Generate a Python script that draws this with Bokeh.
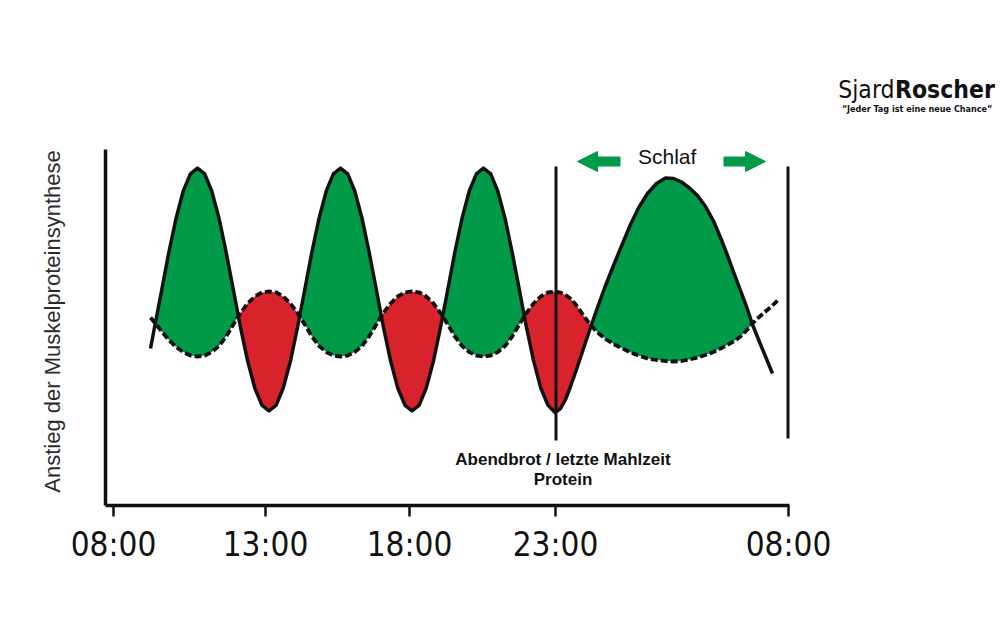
import numpy as np
from bokeh.plotting import figure
from bokeh.models import Range1d, FixedTicker, Label, Arrow, NormalHead
from bokeh.embed import file_html
from bokeh.resources import INLINE

# ---------------- data ----------------
tick_positions = [8, 160, 304, 450, 683]
tick_labels = ["08:00", "13:00", "18:00", "23:00", "08:00"]

position = [45, 49.1, 56.3, 63.4, 70.6, 77.7, 84.9, 92,
            99.2, 106.3, 113.5, 120.6, 127.8, 134.9, 142.1, 149.2, 156.4, 163.5,
            170.7, 177.8, 185, 192.1, 199.3, 206.4, 213.6, 220.7, 227.9, 235,
            242.2, 249.3, 256.5, 263.6, 270.8, 277.9, 285.1, 292.2, 299.4, 306.5,
            313.7, 320.8, 328, 335.1, 342.3, 349.4, 356.6, 363.7, 370.9, 378,
            385.2, 392.3, 399.5, 406.6, 413.8, 420.9, 428.1, 435.2, 442.4, 449.5,
            455, 460, 465, 471, 478, 485, 492, 500, 508, 516, 525, 533, 542, 551,
            560, 568, 576, 584, 592, 600, 608, 615, 622, 629, 635, 641, 647, 653,
            660, 667, 673]

# solid curve: muscle protein synthesis with protein meals
synthesis_level = [157, 178.5, 216, 253.5, 287.4, 314.3, 331.6, 337.5,
                   331.6, 314.3, 287.4, 253.5, 216, 178.5, 144.6, 117.7, 100.4, 94.5,
                   100.4, 117.7, 144.6, 178.5, 216, 253.5, 287.4, 314.3, 331.6, 337.5,
                   331.6, 314.3, 287.4, 253.5, 216, 178.5, 144.6, 117.7, 100.4, 94.5,
                   100.4, 117.7, 144.6, 178.5, 216, 253.5, 287.4, 314.3, 331.6, 337.5,
                   331.6, 314.3, 287.4, 253.5, 216, 178.5, 144.6, 117.7, 100.4, 93,
                   97, 106, 119, 136, 157, 178, 198, 220, 240, 259.5, 281, 297.5, 312, 322,
                   327.5, 327, 323.5, 317.5, 310, 299, 284.5, 268, 250, 231, 215, 199, 181, 166,
                   149, 132, np.nan]

# dashed curve: reference / baseline level
baseline_level = [188, 183, 174, 165.5, 158.5, 153.5, 150, 149,
                  150, 153.5, 159.5, 169, 181, 192.5, 202, 209, 213, 214,
                  213, 209, 202, 192.5, 181, 169, 159.5, 153.5, 150, 149,
                  150, 153.5, 159.5, 169, 181, 192.5, 202, 209, 213, 214,
                  213, 209, 202, 192.5, 181, 169, 159.5, 153.5, 150, 149,
                  150, 153.5, 159.5, 169, 181, 192.5, 202, 209, 213, 214,
                  213, 210.5, 207, 200, 190, 180.5, 173, 166.5, 161.5, 157.5, 153, 150, 147, 145.5,
                  144.5, 144, 144.5, 146, 148, 150.5, 153.5, 157, 160.5, 164.5, 169, 175, 182, 188,
                  194, 200, 206]

axis_x_extent = (0, 684)
axis_y_extent = (0, 356)

marker_x = [450.5, 682.5]
marker_bottom = [65, 67]
marker_top = [339, 339]

sleep_arrow_start = [515, 618]
sleep_arrow_end = [472, 660]
sleep_arrow_level = 344

GREEN = "#019a48"
RED = "#d9232c"
INK = "#111111"
NARROW = "DejaVu Sans Condensed"
SANS = "Liberation Sans"

# ---------------- figure ----------------
p = figure(width=1000, height=618, x_range=Range1d(-105, 895), y_range=Range1d(-113, 505),
           output_backend="svg", toolbar_location=None, min_border=0)
p.xgrid.visible = False
p.ygrid.visible = False
p.outline_line_color = None
p.background_fill_color = "white"
p.border_fill_color = "white"

# x axis (placed inside the frame at level 0)
p.xaxis.fixed_location = 0
p.xaxis.bounds = axis_x_extent
p.xaxis.ticker = FixedTicker(ticks=tick_positions)
p.xaxis.major_label_overrides = {t: l for t, l in zip(tick_positions, tick_labels)}
p.xaxis.axis_line_width = 3.5
p.xaxis.axis_line_color = INK
p.xaxis.major_tick_out = 11
p.xaxis.major_tick_in = 0
p.xaxis.major_tick_line_width = 2.5
p.xaxis.major_tick_line_color = INK
p.xaxis.minor_tick_line_color = None
p.xaxis.major_label_text_font = NARROW
p.xaxis.major_label_text_font_size = "33px"
p.xaxis.major_label_text_color = INK
p.xaxis.major_label_standoff = 8

# y axis
p.yaxis.fixed_location = 0
p.yaxis.bounds = axis_y_extent
p.yaxis.ticker = FixedTicker(ticks=[])
p.yaxis.axis_line_width = 3.5
p.yaxis.axis_line_color = INK
p.yaxis.major_tick_line_color = None
p.yaxis.minor_tick_line_color = None

# ---------------- fills between curves ----------------
x = np.array(position, float)
s = np.array(synthesis_level, float)
d = np.array(baseline_level, float)
diff = s - d
crossings = []
for i in range(len(x) - 1):
    a, b = diff[i], diff[i + 1]
    if np.isfinite(a) and np.isfinite(b) and a * b < 0:
        t = a / (a - b)
        crossings.append((i, x[i] + t * (x[i + 1] - x[i]), s[i] + t * (s[i + 1] - s[i])))

xs_list, ys_list, colors = [], [], []
for (i0, x0, y0), (i1, x1, y1) in zip(crossings[:-1], crossings[1:]):
    idx = list(range(i0 + 1, i1 + 1))
    xs_list.append([x0] + [x[j] for j in idx] + [x1] + [x[j] for j in reversed(idx)])
    ys_list.append([y0] + [s[j] for j in idx] + [y1] + [d[j] for j in reversed(idx)])
    colors.append(GREEN if diff[i0 + 1] > 0 else RED)

p.patches(xs_list, ys_list, fill_color=colors, line_color=None)

p.line(x, d, line_color=INK, line_width=3.8, line_dash="7 3")
p.line(x, s, line_color=INK, line_width=3.5, line_join="round")

p.segment(x0=marker_x, y0=marker_bottom, x1=marker_x, y1=marker_top,
          line_color=INK, line_width=3)

# ---------------- sleep arrows ----------------
for xs_, xe_ in zip(sleep_arrow_start, sleep_arrow_end):
    p.add_layout(Arrow(end=NormalHead(size=20, fill_color=GREEN, line_color=GREEN, line_width=1),
                       x_start=xs_, y_start=sleep_arrow_level, x_end=xe_, y_end=sleep_arrow_level,
                       line_color=GREEN, line_width=10))

# ---------------- texts ----------------
p.add_layout(Label(x=561.7, y=349, text="Schlaf", text_align="center", text_baseline="alphabetic",
                   text_font=SANS, text_font_size="21px", text_color=INK))
p.add_layout(Label(x=457.5, y=46, text="Abendbrot / letzte Mahlzeit", text_align="center",
                   text_baseline="alphabetic", text_font=SANS, text_font_size="17px",
                   text_font_style="bold", text_color=INK))
p.add_layout(Label(x=457.5, y=26, text="Protein", text_align="center",
                   text_baseline="alphabetic", text_font=SANS, text_font_size="17px",
                   text_font_style="bold", text_color=INK))
p.add_layout(Label(x=-53.5, y=184, text="Anstieg der Muskelproteinsynthese", angle=np.pi / 2,
                   text_align="center", text_baseline="middle", text_font=SANS,
                   text_font_size="22px", text_color="#2b2b2b"))

# logo
p.add_layout(Label(x=789, y=416, text="Sjard", text_align="right", text_baseline="alphabetic",
                   text_font=NARROW, text_font_size="24.5px", text_color=INK))
p.add_layout(Label(x=789.5, y=416, text="Roscher", text_align="left", text_baseline="alphabetic",
                   text_font=NARROW, text_font_size="24.5px", text_font_style="bold", text_color=INK))
p.add_layout(Label(x=811.7, y=397, text="\u201cJeder Tag ist eine neue Chance\u201c",
                   text_align="center", text_baseline="alphabetic", text_font=NARROW,
                   text_font_size="9px", text_font_style="bold", text_color=INK))

open("out.html", "w").write(file_html(p, INLINE))
